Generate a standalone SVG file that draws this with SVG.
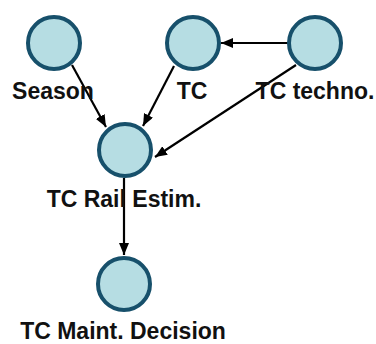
<svg xmlns="http://www.w3.org/2000/svg" width="376" height="344" viewBox="0 0 376 344">
<style>
.node circle{fill:#b6dde3;stroke:#17506b;stroke-width:4}
.node text{font-family:"Liberation Sans",Arial,sans-serif;font-weight:bold;font-size:23px;fill:#111;text-anchor:middle}
.edges line{stroke:#000;stroke-width:2.2}
</style>
<defs>
<marker id="ah" viewBox="0 0 12 10" refX="12" refY="5" markerWidth="12" markerHeight="10" markerUnits="userSpaceOnUse" orient="auto">
<path d="M0,0 L12,5 L0,10 Z" fill="#000"/>
</marker>
</defs>
<rect width="376" height="344" fill="#fff"/>
<g class="edges">
<line x1="72" y1="65" x2="106" y2="127" marker-end="url(#ah)"/>
<line x1="174" y1="66" x2="143" y2="126" marker-end="url(#ah)"/>
<line x1="288" y1="43" x2="221" y2="43" marker-end="url(#ah)"/>
<line x1="296" y1="65" x2="155" y2="157" marker-end="url(#ah)"/>
<line x1="124" y1="178" x2="124" y2="255" marker-end="url(#ah)"/>
</g>
<g id="season" class="node"><circle cx="54" cy="43" r="26"/><text x="53" y="99">Season</text></g>
<g id="tc" class="node"><circle cx="193" cy="43" r="26"/><text x="192" y="99">TC</text></g>
<g id="tc-techno" class="node"><circle cx="315" cy="43" r="26"/><text x="315" y="99">TC techno.</text></g>
<g id="tc-rail" class="node"><circle cx="125" cy="150" r="26"/><text x="124" y="207">TC Rail Estim.</text></g>
<g id="tc-maint" class="node"><circle cx="124" cy="284" r="26"/><text x="123" y="339">TC Maint. Decision</text></g>
</svg>
